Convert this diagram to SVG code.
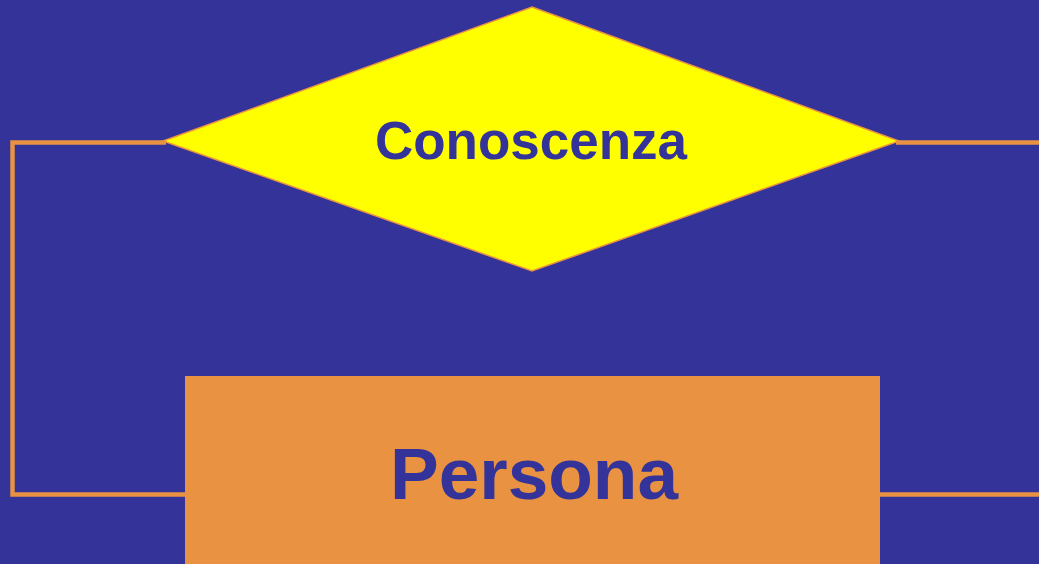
<svg xmlns="http://www.w3.org/2000/svg" width="1039" height="564" viewBox="0 0 1039 564">
<style>
.conn{fill:none;stroke:#E89242;stroke-width:4.5}
.lbl{font-family:"Liberation Sans",Arial,sans-serif;font-weight:bold;fill:#333399;text-anchor:middle}
</style>
<rect x="0" y="0" width="1039" height="564" fill="#333399"/>
<g id="connectors">
<polyline class="conn" points="166,142.5 12.5,142.5 12.5,494.5 186,494.5"/>
<line class="conn" x1="896" y1="142.5" x2="1039" y2="142.5"/>
<line class="conn" x1="879" y1="494.5" x2="1039" y2="494.5"/>
</g>
<g id="conoscenza">
<polygon points="532,7 899,141 532,271 163,141" fill="#FFFF00" stroke="#E89242" stroke-width="1.5"/>
<text class="lbl" x="531" y="159" font-size="53">Conoscenza</text>
</g>
<g id="persona">
<rect x="185" y="376" width="695" height="190" fill="#E89242"/>
<text class="lbl" x="534" y="499" font-size="73">Persona</text>
</g>
</svg>
